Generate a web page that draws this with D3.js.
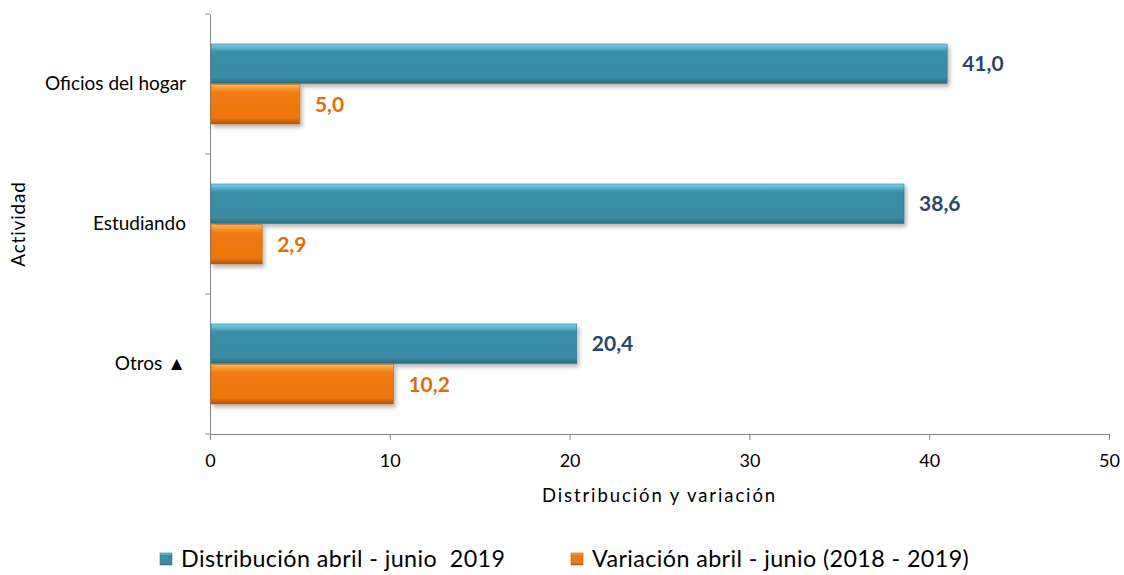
<!DOCTYPE html>
<html lang="es">
<head>
<meta charset="utf-8">
<title>Actividad</title>
<script src="https://cdn.jsdelivr.net/npm/d3@7"></script>
<style>
  body { margin: 0; background: #fff; }
  svg text { font-family: Lato, "Open Sans", sans-serif; }
</style>
</head>
<body>
<div id="chart"></div>
<script>

const categories = ["Oficios del hogar", "Estudiando", "Otros \u25B2"];
const seriesNames = ["Distribución abril - junio\u00A0 2019", "Variación abril - junio (2018 - 2019)"];
const distribucion = [41.0, 38.6, 20.4];
const variacion = [5.0, 2.9, 10.2];
const xTicks = [0, 10, 20, 30, 40, 50];

const width = 1124, height = 575;
const margin = { top: 14, right: 15, bottom: 141, left: 210 };

const svg = d3.select("#chart").append("svg")
  .attr("width", width)
  .attr("height", height);

const defs = svg.append("defs");

// bevel-ish gradients
function grad(id, stops) {
  const g = defs.append("linearGradient").attr("id", id)
    .attr("x1", 0).attr("x2", 0).attr("y1", 0).attr("y2", 1);
  stops.forEach(s => g.append("stop").attr("offset", s[0]).attr("stop-color", s[1]));
}
grad("gBlue", [[0, "#7fd0e6"], [0.1, "#5bb4cc"], [0.2, "#3a8ea6"], [0.85, "#3a8ca4"], [1, "#2a6a80"]]);
grad("gOrange", [[0, "#fdb450"], [0.12, "#f6922a"], [0.22, "#f07a12"], [0.85, "#ee7610"], [1, "#a8540a"]]);

const shadow = defs.append("filter").attr("id", "shadow")
  .attr("x", "-5%").attr("y", "-20%").attr("width", "115%").attr("height", "160%");
shadow.append("feDropShadow").attr("dx", 2).attr("dy", 3).attr("stdDeviation", 2)
  .attr("flood-color", "#000").attr("flood-opacity", 0.3);

const x = d3.scaleLinear().domain([0, 50]).range([margin.left, width - margin.right]);
const y = d3.scaleBand().domain(categories).range([margin.top, height - margin.bottom]);
const sub = d3.scaleBand().domain([0, 1]).range([30, y.bandwidth() - 30]).paddingInner(0.03);

// axes
const xAxis = svg.append("g")
  .attr("transform", `translate(0,${height - margin.bottom})`)
  .call(d3.axisBottom(x).tickValues(xTicks).tickSize(6).tickPadding(14).tickFormat(d3.format("d")));
xAxis.selectAll("text").attr("font-size", 18).attr("fill", "#000")
  .style("font-family", "Lato, sans-serif");

const yAxis = svg.append("g")
  .attr("transform", `translate(${margin.left},0)`)
  .call(d3.axisLeft(y).tickSize(0).tickPadding(24));
yAxis.selectAll("text").attr("font-size", 19).attr("fill", "#000")
  .style("font-family", "Lato, sans-serif");

// category boundary ticks on y axis
svg.append("g").selectAll("line")
  .data(categories.map(c => y(c)).concat([height - margin.bottom]))
  .join("line")
  .attr("x1", margin.left - 5).attr("x2", margin.left)
  .attr("y1", d => d).attr("y2", d => d);

svg.selectAll(".domain, .tick line, g > line").attr("stroke", "#888");

// bars
const groups = svg.append("g").selectAll("g")
  .data(categories.map((c, i) => ({ c, vals: [distribucion[i], variacion[i]] })))
  .join("g")
  .attr("transform", d => `translate(0,${y(d.c)})`);

const fills = ["url(#gBlue)", "url(#gOrange)"];
const labelColors = ["#2a4768", "#e36c09"];

groups.selectAll("rect")
  .data(d => d.vals.map((v, k) => ({ v, k })))
  .join("rect")
  .attr("x", x(0) + 1)
  .attr("y", d => sub(d.k))
  .attr("width", d => x(d.v) - x(0) - 1)
  .attr("height", sub.bandwidth())
  .attr("fill", d => fills[d.k])
  .attr("stroke", d => d.k ? "#c0640c" : "#2f7890")
  .attr("stroke-width", 0.6)
  .attr("filter", "url(#shadow)");

groups.selectAll("text.val")
  .data(d => d.vals.map((v, k) => ({ v, k })))
  .join("text")
  .attr("class", "val")
  .attr("x", d => x(d.v) + 15)
  .attr("y", d => sub(d.k) + sub.bandwidth() / 2)
  .attr("dy", "0.36em")
  .attr("font-size", 21)
  .attr("font-weight", "bold")
  .attr("fill", d => labelColors[d.k])
  .text(d => d3.format(".1f")(d.v).replace(".", ","));

// axis titles
svg.append("text")
  .attr("x", (x(0) + x(50)) / 2)
  .attr("y", 502)
  .attr("text-anchor", "middle")
  .attr("font-size", 18.5)
  .attr("letter-spacing", 1.9)
  .text("Distribución y variación");

svg.append("text")
  .attr("transform", `translate(25,${(margin.top + height - margin.bottom) / 2}) rotate(-90)`)
  .attr("text-anchor", "middle")
  .attr("font-size", 19)
  .attr("letter-spacing", 0.8)
  .text("Actividad");

// legend
const legend = svg.append("g");
const legendX = [160, 571];
seriesNames.forEach((name, k) => {
  const lg = legend.append("g").attr("transform", `translate(${legendX[k]},553)`);
  lg.append("rect").attr("width", 12).attr("height", 12)
    .attr("fill", fills[k]).attr("stroke", k ? "#c0640c" : "#2f7890").attr("stroke-width", 0.6);
  lg.append("text").attr("x", 21).attr("y", 6).attr("dy", "0.36em")
    .attr("font-size", 23.3).attr("letter-spacing", 0.4).text(name);
});

</script>
</body>
</html>
